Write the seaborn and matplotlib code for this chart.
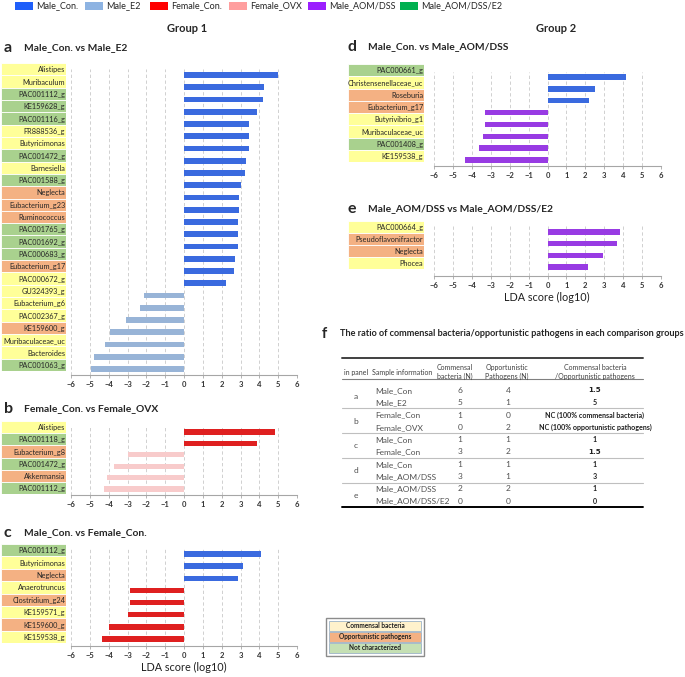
import pandas as pd
import matplotlib.pyplot as plt
import seaborn as sns
from matplotlib.patches import Rectangle

sns.set_theme(style="white")
plt.rcParams['font.family'] = ['Lato', 'DejaVu Sans']

W, H = 685, 677

# ---- Data ----
group_names = ["Male_Con.", "Male_E2", "Female_Con.", "Female_OVX", "Male_AOM/DSS", "Male_AOM/DSS/E2"]
group_colors = ["#1F5FFA", "#8DB3E2", "#FF0000", "#FFC4C4", "#9B1FFF", "#00B050"]
legend_swatch_colors = ["#1F5FFA", "#8DB3E2", "#FF0000", "#FF9E9E", "#9B1FFF", "#00B050"]

type_names = ["Commensal bacteria", "Opportunistic pathogens", "Not characterized"]
type_colors = {"C": "#FFFF99", "O": "#F4B183", "N": "#A9D18E"}
type_legend_colors = ["#FFF2CC", "#F4B183", "#C5E0B4"]

a_taxa = ["Alistipes", "Muribaculum", "PAC001112_g", "KE159628_g", "PAC001116_g", "FR888536_g",
          "Butyricimonas", "PAC001472_g", "Barnesiella", "PAC001588_g", "Neglecta", "Eubacterium_g23",
          "Ruminococcus", "PAC001765_g", "PAC001692_g", "PAC000683_g", "Eubacterium_g17", "PAC000672_g",
          "GU324393_g", "Eubacterium_g6", "PAC002367_g", "KE159600_g", "Muribaculaceae_uc",
          "Bacteroides", "PAC001063_g"]
a_lda = [4.98, 4.24, 4.2, 3.88, 3.47, 3.44, 3.44, 3.31, 3.24, 3.01, 2.93, 2.9, 2.88, 2.88, 2.87,
         2.7, 2.66, 2.22, -2.14, -2.32, -3.07, -3.94, -4.17, -4.77, -4.95]
a_group = ["Male_Con."] * 18 + ["Male_E2"] * 7
a_type = ["C", "C", "N", "N", "N", "C", "C", "N", "C", "N", "O", "O", "O", "N", "N", "N", "O", "C",
          "C", "C", "C", "O", "C", "C", "N"]

b_taxa = ["Alistipes", "PAC001118_g", "Eubacterium_g8", "PAC001472_g", "Akkermansia", "PAC001112_g"]
b_lda = [4.85, 3.85, -2.96, -3.7, -4.1, -4.27]
b_group = ["Female_Con."] * 2 + ["Female_OVX"] * 4
b_type = ["C", "N", "O", "N", "O", "N"]

c_taxa = ["PAC001112_g", "Butyricimonas", "Neglecta", "Anaerotruncus", "Clostridium_g24",
          "KE159571_g", "KE159600_g", "KE159538_g"]
c_lda = [4.1, 3.15, 2.88, -2.88, -2.88, -2.95, -4.0, -4.38]
c_group = ["Male_Con."] * 3 + ["Female_Con."] * 5
c_type = ["N", "C", "O", "C", "O", "C", "O", "C"]

d_taxa = ["PAC000661_g", "Christensenellaceae_uc", "Roseburia", "Eubacterium_g17", "Butyrivibrio_g1",
          "Muribaculaceae_uc", "PAC001408_g", "KE159538_g"]
d_lda = [4.16, 2.5, 2.19, -3.28, -3.33, -3.42, -3.63, -4.37]
d_group = ["Male_Con."] * 3 + ["Male_AOM/DSS"] * 5
d_type = ["N", "C", "O", "O", "C", "C", "N", "C"]

e_taxa = ["PAC000664_g", "Pseudoflavonifractor", "Neglecta", "Phocea"]
e_lda = [3.81, 3.7, 2.93, 2.13]
e_group = ["Male_AOM/DSS"] * 4
e_type = ["C", "O", "O", "C"]

# table f
tbl_panel = ["a", "b", "c", "d", "e"]
tbl_sample = ["Male_Con", "Male_E2", "Female_Con", "Female_OVX", "Male_Con", "Female_Con",
              "Male_Con", "Male_AOM/DSS", "Male_AOM/DSS", "Male_AOM/DSS/E2"]
tbl_commensal = [6, 5, 1, 0, 1, 3, 1, 3, 2, 0]
tbl_opportunistic = [4, 1, 0, 2, 1, 2, 1, 1, 2, 0]
tbl_ratio = ["1.5", "5", "NC (100% commensal bacteria)", "NC (100% opportunistic pathogens)",
             "1", "1.5", "1", "3", "1", "0"]

palette = dict(zip(group_names, group_colors))

fig = plt.figure(figsize=(W / 100, H / 100), dpi=100)

canvas = fig.add_axes([0, 0, 1, 1])
canvas.set_xlim(0, W)
canvas.set_ylim(H, 0)
canvas.axis("off")


def px_axes(l, t, r, b):
    return fig.add_axes([l / W, 1 - b / H, (r - l) / W, (b - t) / H])


def draw_panel(taxa, lda, groups, types, bar_box, first_y, last_y, label_box):
    n = len(taxa)
    df = pd.DataFrame({"taxon": taxa, "lda": lda, "group": groups})
    l, t, r, b = bar_box
    ax = px_axes(l, t, r, b)
    sns.barplot(data=df, x="lda", y="taxon", hue="group", palette=palette, dodge=False,
                width=0.45, orient="h", legend=False, linewidth=0, ax=ax)
    s = (last_y - first_y) / (n - 1)
    ax.set_ylim((n - 1) + (b - last_y) / s, -(first_y - t) / s)
    ax.set_xlim(-6, 6)
    ax.set_xticks(range(-6, 7))
    ax.grid(axis="x", color="#C9C9C9", linestyle=(0, (4, 3)), linewidth=0.6)
    ax.grid(axis="y", visible=False)
    ax.set_axisbelow(True)
    for sp in ["left", "top", "right"]:
        ax.spines[sp].set_visible(False)
    ax.spines["bottom"].set_color("#A6A6A6")
    ax.spines["bottom"].set_linewidth(0.8)
    ax.tick_params(axis="y", left=False, labelleft=False)
    ax.tick_params(axis="x", bottom=True, length=2, width=0.6, color="#A6A6A6",
                   labelsize=5.5, labelcolor="#333333", pad=2)
    for lab in ax.get_xticklabels():
        lab.set_fontweight("bold")
    ax.set_xlabel("")
    ax.set_ylabel("")

    # taxon label boxes
    ll, lt, lr, lb = label_box
    lax = px_axes(ll, lt, lr, lb)
    lax.barh([i + 0.5 for i in range(n)], [1] * n, height=1, left=0,
             color=[type_colors[k] for k in types], edgecolor="white", linewidth=0.6)
    for i, name in enumerate(taxa):
        lax.text(0.99, i + 0.55, name, ha="right", va="center", fontsize=5.3, color="#262626")
    lax.set_xlim(0, 1)
    lax.set_ylim(n, 0)
    lax.axis("off")
    return ax


draw_panel(a_taxa, a_lda, a_group, a_type, (71, 69, 297, 375), 75, 369, (1, 63, 66, 371))
draw_panel(b_taxa, b_lda, b_group, b_type, (71, 426, 297, 495), 432, 489, (1, 421, 66, 494))
draw_panel(c_taxa, c_lda, c_group, c_type, (71, 549, 297, 646), 554, 639, (1, 544, 66, 643))
draw_panel(d_taxa, d_lda, d_group, d_type, (434, 72, 661, 166), 77, 160, (348, 64, 424, 162))
draw_panel(e_taxa, e_lda, e_group, e_type, (434, 225, 661, 276), 232, 267, (348, 221, 424, 269))

# ---- Top legend ----
swatch_x = [15, 85, 150, 229, 308, 400]
for x0, name, col in zip(swatch_x, group_names, legend_swatch_colors):
    canvas.add_patch(Rectangle((x0, 1.5), 18, 8.5, color=col, lw=0))
    canvas.text(x0 + 21, 6, name, fontsize=6.5, va="center", ha="left", color="#262626")

canvas.text(187, 29, "Group 1", fontsize=8, fontweight="bold", ha="center", va="center")
canvas.text(556, 29, "Group 2", fontsize=8, fontweight="bold", ha="center", va="center")

# panel titles
titles = [("a", 4, 48, "Male_Con. vs Male_E2"),
          ("b", 4, 409, "Female_Con. vs Female_OVX"),
          ("c", 4, 533, "Male_Con. vs Female_Con."),
          ("d", 348, 47, "Male_Con. vs Male_AOM/DSS"),
          ("e", 348, 209, "Male_AOM/DSS vs Male_AOM/DSS/E2")]
for letter, x0, y0, title in titles:
    canvas.text(x0, y0, letter, fontsize=11.5, fontweight="bold", ha="left", va="center")
    canvas.text(x0 + 20, y0, title, fontsize=7.4, fontweight="bold", ha="left", va="center")

canvas.text(184, 667, "LDA score (log10)", fontsize=7.8, ha="center", va="center", color="#202020")
canvas.text(547, 297, "LDA score (log10)", fontsize=7.8, ha="center", va="center", color="#202020")

# ---- Table f ----
canvas.text(322, 334, "f", fontsize=10.5, fontweight="bold", ha="left", va="center")
canvas.text(340, 334, "The ratio of commensal bacteria/opportunistic pathogens in each comparison groups",
            fontsize=6.6, fontweight="bold", ha="left", va="center")

tx0, tx1 = 342, 643
canvas.plot([tx0, tx1], [358, 358], color="#404040", lw=1.4)
canvas.plot([tx0, tx1], [379, 379], color="#808080", lw=0.8)
canvas.plot([tx0, tx1], [507, 507], color="#000000", lw=1.4)
for yy in [408, 433, 458, 483]:
    canvas.plot([tx0, tx1], [yy, yy], color="#BFBFBF", lw=0.8)

hdr = dict(fontsize=5.0, color="#404040", va="center")
canvas.text(356, 372, "in panel", ha="center", **hdr)
canvas.text(372, 372, "Sample information", ha="left", **hdr)
canvas.text(455, 372, "Commensal\nbacteria (N)", ha="center", linespacing=1.25, **hdr)
canvas.text(507, 372, "Opportunistic\nPathogens (N)", ha="center", linespacing=1.25, **hdr)
canvas.text(595, 372, "Commensal bacteria\n/Opportunistic pathogens", ha="center", linespacing=1.25, **hdr)

row = dict(fontsize=6, color="#505050", va="center")
row_y0, row_step = 390.5, 12.3
for i in range(len(tbl_sample)):
    yy = row_y0 + i * row_step
    canvas.text(375, yy, tbl_sample[i], ha="left", **row)
    canvas.text(460, yy, str(tbl_commensal[i]), ha="center", **row)
    canvas.text(508, yy, str(tbl_opportunistic[i]), ha="center", **row)
    canvas.text(595, yy, tbl_ratio[i], ha="center", fontsize=5.1, fontweight="bold",
                color="#202020", va="center", family=["DejaVu Sans"] if tbl_ratio[i] == "1.5" else None)
for j, p in enumerate(tbl_panel):
    yy = row_y0 + (2 * j + 0.5) * row_step
    canvas.text(356, yy, p, ha="center", **row)

# ---- Bottom legend box ----
canvas.add_patch(Rectangle((326, 618), 98, 38, facecolor="white", edgecolor="#8C8C8C", lw=1.0))
box_tops = [621, 632, 643]
for yt, name, col in zip(box_tops, type_names, type_legend_colors):
    canvas.add_patch(Rectangle((329, yt), 92, 10, facecolor=col, edgecolor="#9DB4C8", lw=0.6))
    canvas.text(375, yt + 5, name, fontsize=4.7, fontweight="bold", ha="center", va="center",
                color="#202020")

fig.savefig("out.png", dpi=100)
